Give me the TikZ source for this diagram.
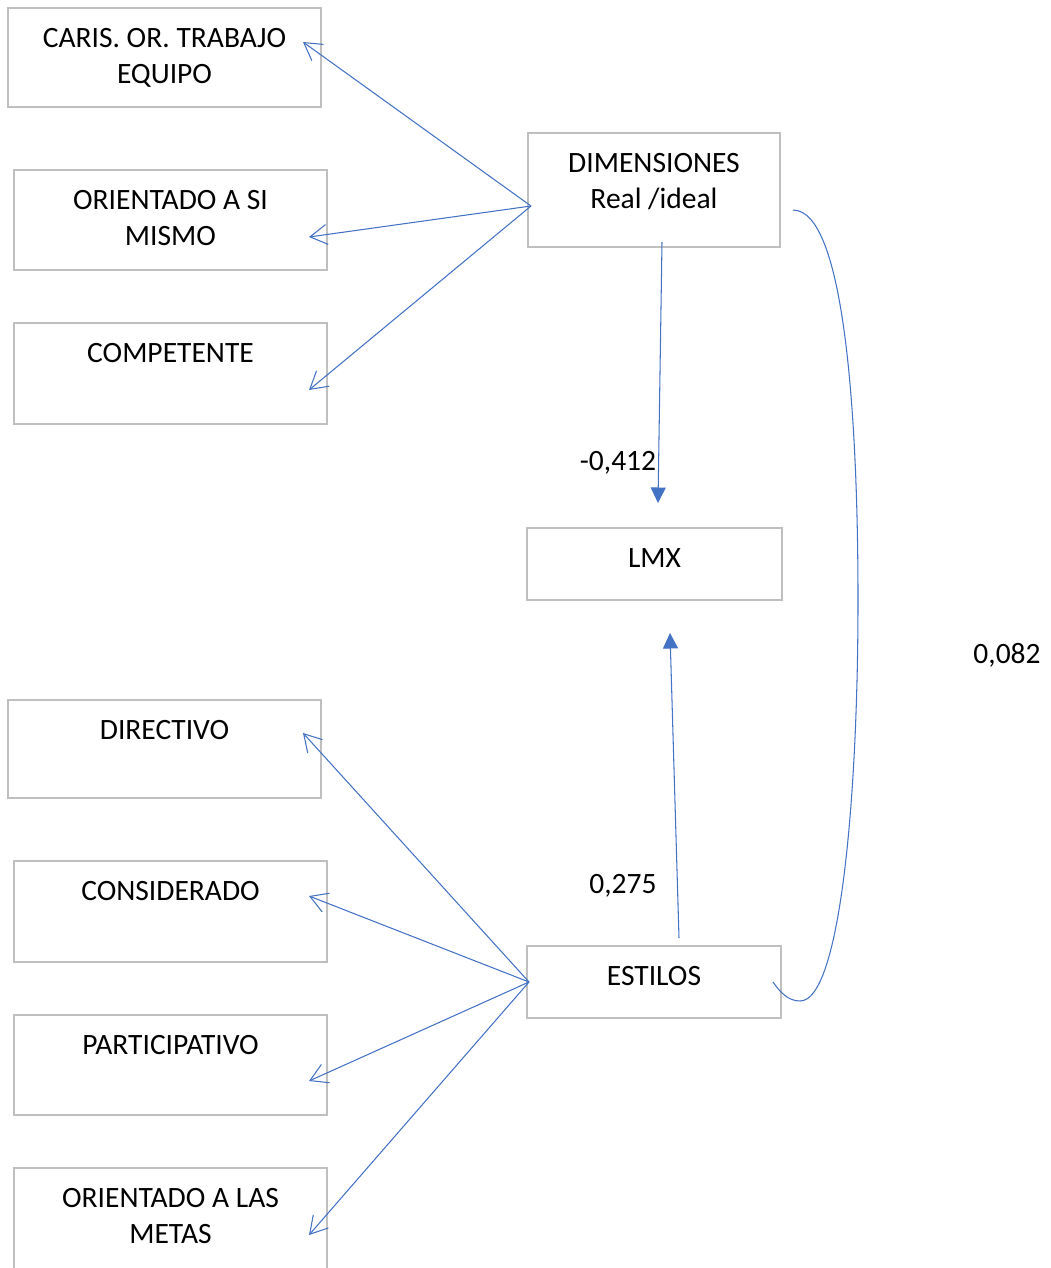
\documentclass[tikz,border=0pt]{standalone}
\usepackage{fontspec}
\setmainfont{Carlito}
\usetikzlibrary{arrows.meta}
\definecolor{linkblue}{RGB}{68,114,196}
\definecolor{boxgray}{RGB}{191,191,191}

\begin{document}
\begin{tikzpicture}[x=0.02cm, y=-0.02cm, font=\fontsize{16.8}{20.5}\selectfont,
    box/.style={draw=boxgray, line width=1.1pt, inner sep=0pt, outer sep=0pt, anchor=north west},
    boxtext/.style={inner sep=0pt, anchor=north, align=center},
    loading/.style={draw=linkblue, line width=0.6pt, -{Straight Barb[length=0.34cm, width=0.4cm]}},
    effect/.style={draw=linkblue, line width=0.6pt, -{Triangle[length=0.31cm, width=0.3cm]}},
    cov/.style={draw=linkblue, line width=0.6pt},
    coef/.style={inner sep=0pt}]
    \useasboundingbox (0,0) rectangle (1051,1268);

    % Boxes: name / left / top / width / height / text
    \foreach \name/\x/\y/\w/\h/\txt in {
        caris/8/8/313/99/{CARIS. OR. TRABAJO\\EQUIPO},
        simismo/14/170/313/100/{ORIENTADO A SI\\MISMO},
        competente/14/323/313/101/{COMPETENTE},
        dimensiones/528/133/252/114/{DIMENSIONES\\Real /ideal},
        lmx/527/528/255/72/{LMX},
        directivo/8/700/313/98/{DIRECTIVO},
        considerado/14/861/313/101/{CONSIDERADO},
        participativo/14/1015/313/100/{PARTICIPATIVO},
        metas/14/1168/313/102/{ORIENTADO A LAS\\METAS},
        estilos/527/946/254/72/{ESTILOS}} {
        \node[box, minimum width=\w*0.02cm, minimum height=\h*0.02cm] (\name) at (\x,\y) {};
        \node[boxtext] (\name-txt) at ([yshift=-0.4cm]\name.north) {\txt};
    }

    % End points of the connectors
    \coordinate (dim-out) at (531,206);
    \coordinate (est-out) at (529,982);
    \coordinate (caris-in) at (303,42);
    \coordinate (simismo-in) at (309,237);
    \coordinate (competente-in) at (309,390);
    \coordinate (directivo-in) at (303,733);
    \coordinate (considerado-in) at (309,896);
    \coordinate (participativo-in) at (309,1081);
    \coordinate (metas-in) at (309,1235);

    % Loadings of both factors
    \foreach \tgt in {caris, simismo, competente}
        \draw[loading] (dim-out) -- (\tgt-in);
    \foreach \tgt in {directivo, considerado, participativo, metas}
        \draw[loading] (est-out) -- (\tgt-in);

    % Paths into LMX
    \coordinate (dim-down) at (662,242);
    \coordinate (lmx-top) at (658,503);
    \coordinate (est-up) at (679,938);
    \coordinate (lmx-bottom) at (670,633);
    \draw[effect] (dim-down) -- (lmx-top);
    \draw[effect] (est-up) -- (lmx-bottom);

    % Covariance between DIMENSIONES and ESTILOS
    \coordinate (dim-right) at (793,210);
    \coordinate (est-right) at (773,982);
    \draw[cov] (dim-right) .. controls (845,210) and (858,420) .. (858,600)
        .. controls (858,800) and (840,1001) .. (800,1001)
        .. controls (788,1001) and (780,992) .. (est-right);

    % Coefficients
    \node[coef] (w-dim) at (618,463) {-0,412};
    \node[coef] (w-est) at (623,886) {0,275};
    \node[coef] (w-cov) at (1007,655) {0,082};
\end{tikzpicture}
\end{document}
